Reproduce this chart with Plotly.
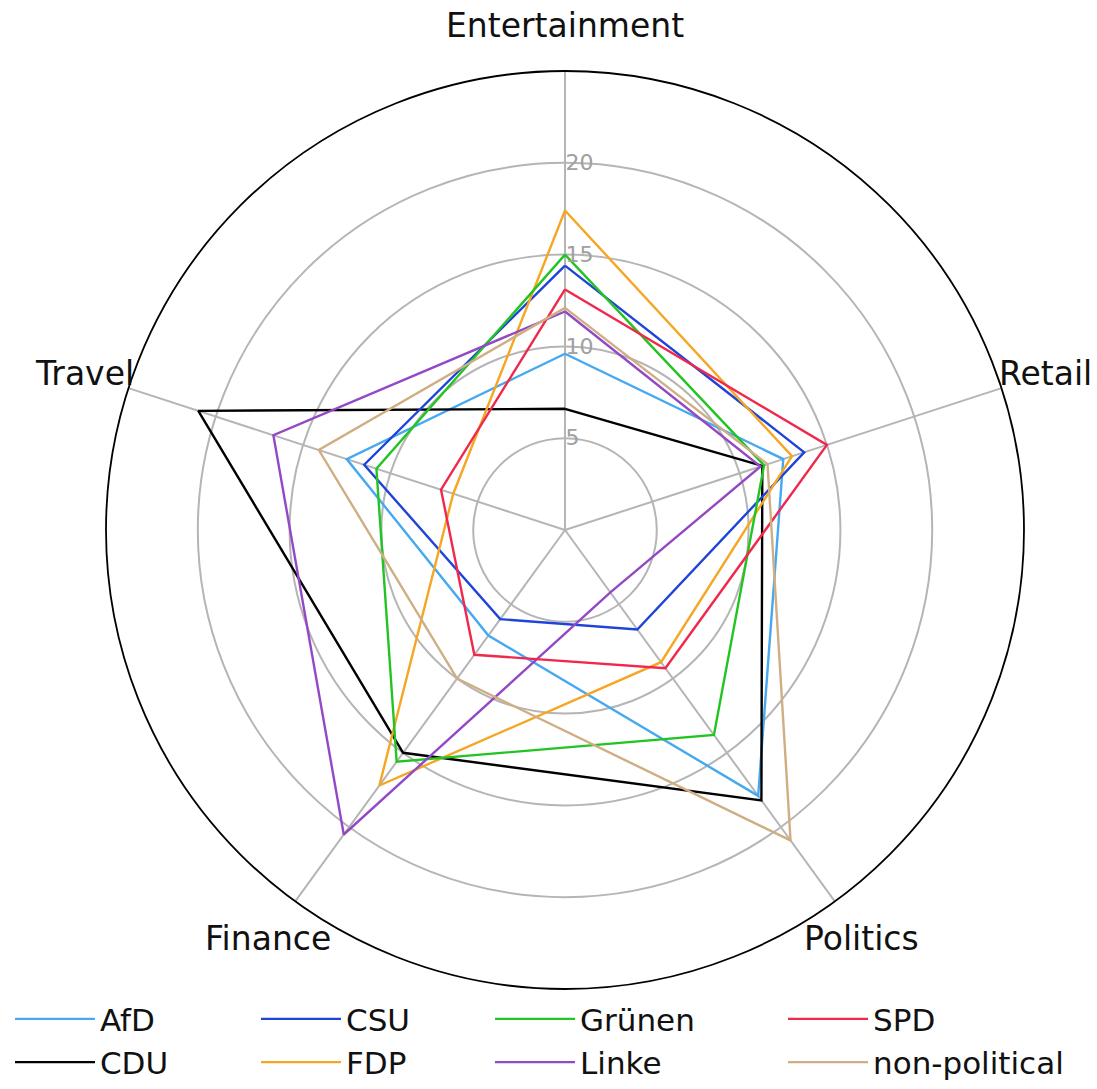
import math
import plotly.graph_objects as go

categories = ["Entertainment", "Retail", "Politics", "Finance", "Travel"]

afd = [9.6, 12.5, 17.9, 7.1, 12.5]
cdu = [6.6, 11.3, 18.2, 15.0, 21.0]
csu = [14.4, 13.7, 6.7, 6.0, 11.5]
fdp = [17.4, 13.0, 8.9, 17.2, 6.4]
gruenen = [15.0, 11.4, 13.8, 15.6, 10.8]
linke = [11.9, 11.2, 4.2, 20.5, 16.7]
spd = [13.1, 15.0, 9.3, 8.4, 7.1]
nonpol = [12.1, 11.6, 20.9, 10.0, 14.1]

radial_ticks = [5, 10, 15, 20]

series = [
    ("AfD", afd, "#45a8f0", "legend"),
    ("CDU", cdu, "#000000", "legend"),
    ("CSU", csu, "#1f44d8", "legend2"),
    ("FDP", fdp, "#f5a623", "legend2"),
    ("Grünen", gruenen, "#22c422", "legend3"),
    ("Linke", linke, "#9348c4", "legend3"),
    ("SPD", spd, "#f0284c", "legend4"),
    ("non-political", nonpol, "#cfae84", "legend4"),
]

fig = go.Figure()
for name, vals, color, leg in series:
    fig.add_trace(go.Scatterpolar(
        r=vals + vals[:1],
        theta=categories + categories[:1],
        mode="lines",
        name=name,
        line=dict(color=color, width=2.4),
        legend=leg,
    ))

font_family = "DejaVu Sans"

# category labels placed around the polar area (like matplotlib's theta labels)
label_radius = 0.55  # in paper units relative to the square plot area
annotations = []
n = len(categories)
for i, cat in enumerate(categories):
    ang = math.radians(90 - i * 360 / n)
    annotations.append(dict(
        text=cat, xref="paper", yref="paper",
        x=0.5 + label_radius * math.cos(ang),
        y=0.5 + label_radius * math.sin(ang),
        xanchor="center", yanchor="middle", showarrow=False, borderpad=0,
        font=dict(size=33, color="#111", family=font_family),
    ))

leg_common = dict(orientation="v", yanchor="top", y=-0.0035, xanchor="left",
                  font=dict(size=31, color="#111", family=font_family),
                  itemwidth=80, tracegroupgap=0, bgcolor="rgba(0,0,0,0)")

fig.update_layout(
    width=1097, height=1089,
    margin=dict(l=106, r=73, t=71, b=100, autoexpand=False),
    paper_bgcolor="white",
    font=dict(family=font_family),
    showlegend=True,
    annotations=annotations,
    polar=dict(
        bgcolor="white",
        domain=dict(x=[0, 1], y=[0, 1]),
        radialaxis=dict(
            range=[0, 25], tickvals=radial_ticks, angle=90, tickangle=90,
            showline=False, gridcolor="#b5b5b5", gridwidth=1.5, ticks="",
            tickfont=dict(size=22, color="#a0a0a0", family=font_family),
        ),
        angularaxis=dict(
            direction="clockwise", rotation=90, showline=True,
            linecolor="black", linewidth=1.8, gridcolor="#b5b5b5", gridwidth=1.5,
            ticks="", showticklabels=False,
        ),
    ),
    legend=dict(x=-0.1046, **leg_common),
    legend2=dict(x=0.1634, **leg_common),
    legend3=dict(x=0.4183, **leg_common),
    legend4=dict(x=0.7375, **leg_common),
)

fig.write_html("out.html",
               config={"displayModeBar": False},
               post_script="document.body.style.margin='0px';document.body.style.overflow='hidden';")
